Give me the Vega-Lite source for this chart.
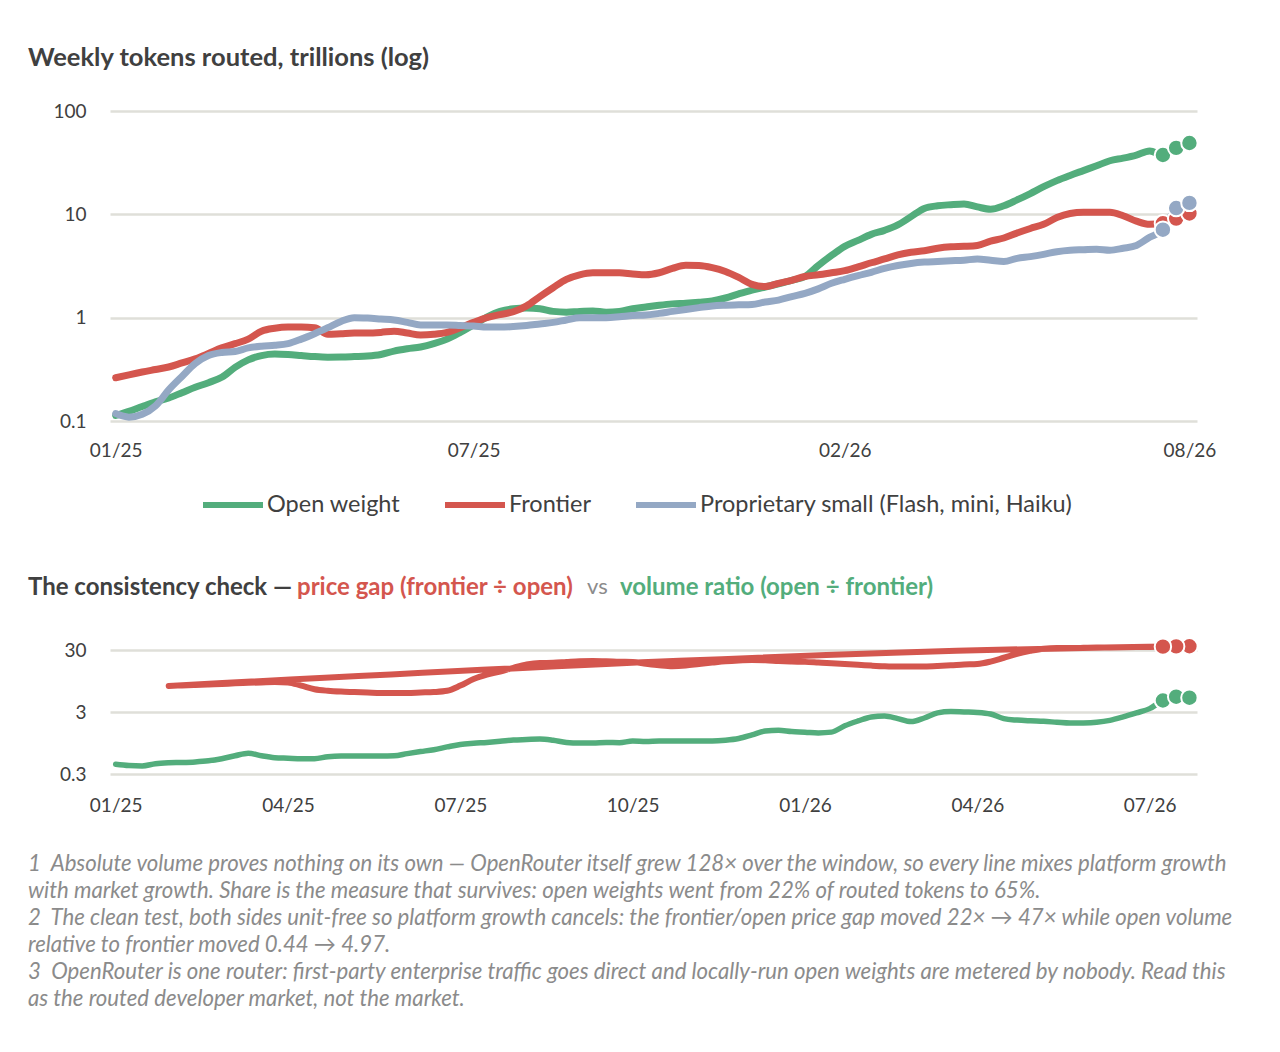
{
  "$schema": "https://vega.github.io/schema/vega-lite/v6.json",
  "background": "white",
  "padding": {"left": 28, "top": 45, "right": 20, "bottom": 20},
  "bounds": "flush",
  "spacing": 114.5,
  "config": {
    "font": "Lato",
    "view": {"stroke": null},
    "axis": {"domain": false, "ticks": false, "tickSize": 0, "labelFont": "Lato", "labelFontSize": 19, "labelColor": "#404040", "labelOverlap": false, "labelFlush": false, "title": null},
    "axisY": {"grid": true, "gridColor": "#DFDFD9", "gridWidth": 2.5, "labelPadding": 24},
    "axisX": {"grid": false, "labelPadding": 20},
    "title": {"font": "Lato", "anchor": "start", "frame": "group"}
  },
  "datasets": {
    "tokens": [
      {"date": "2025-01-13", "series": "open", "value": 0.113},
      {"date": "2025-01-20", "series": "open", "value": 0.124},
      {"date": "2025-01-27", "series": "open", "value": 0.138},
      {"date": "2025-02-03", "series": "open", "value": 0.153},
      {"date": "2025-02-10", "series": "open", "value": 0.167},
      {"date": "2025-02-17", "series": "open", "value": 0.188},
      {"date": "2025-02-24", "series": "open", "value": 0.212},
      {"date": "2025-03-03", "series": "open", "value": 0.235},
      {"date": "2025-03-10", "series": "open", "value": 0.265},
      {"date": "2025-03-17", "series": "open", "value": 0.33},
      {"date": "2025-03-24", "series": "open", "value": 0.39},
      {"date": "2025-03-31", "series": "open", "value": 0.43},
      {"date": "2025-04-07", "series": "open", "value": 0.445},
      {"date": "2025-04-14", "series": "open", "value": 0.44},
      {"date": "2025-04-21", "series": "open", "value": 0.43},
      {"date": "2025-04-28", "series": "open", "value": 0.42},
      {"date": "2025-05-05", "series": "open", "value": 0.415},
      {"date": "2025-05-12", "series": "open", "value": 0.416},
      {"date": "2025-05-19", "series": "open", "value": 0.42},
      {"date": "2025-05-26", "series": "open", "value": 0.425},
      {"date": "2025-06-02", "series": "open", "value": 0.44},
      {"date": "2025-06-09", "series": "open", "value": 0.475},
      {"date": "2025-06-16", "series": "open", "value": 0.5},
      {"date": "2025-06-23", "series": "open", "value": 0.52},
      {"date": "2025-06-30", "series": "open", "value": 0.56},
      {"date": "2025-07-07", "series": "open", "value": 0.62},
      {"date": "2025-07-14", "series": "open", "value": 0.72},
      {"date": "2025-07-21", "series": "open", "value": 0.85},
      {"date": "2025-07-28", "series": "open", "value": 1.01},
      {"date": "2025-08-04", "series": "open", "value": 1.15},
      {"date": "2025-08-11", "series": "open", "value": 1.22},
      {"date": "2025-08-18", "series": "open", "value": 1.24},
      {"date": "2025-08-25", "series": "open", "value": 1.22},
      {"date": "2025-09-01", "series": "open", "value": 1.15},
      {"date": "2025-09-08", "series": "open", "value": 1.13},
      {"date": "2025-09-15", "series": "open", "value": 1.15},
      {"date": "2025-09-22", "series": "open", "value": 1.16},
      {"date": "2025-09-29", "series": "open", "value": 1.13},
      {"date": "2025-10-06", "series": "open", "value": 1.15},
      {"date": "2025-10-13", "series": "open", "value": 1.22},
      {"date": "2025-10-20", "series": "open", "value": 1.27},
      {"date": "2025-10-27", "series": "open", "value": 1.32},
      {"date": "2025-11-03", "series": "open", "value": 1.36},
      {"date": "2025-11-10", "series": "open", "value": 1.38},
      {"date": "2025-11-17", "series": "open", "value": 1.41},
      {"date": "2025-11-24", "series": "open", "value": 1.45},
      {"date": "2025-12-01", "series": "open", "value": 1.55},
      {"date": "2025-12-08", "series": "open", "value": 1.7},
      {"date": "2025-12-15", "series": "open", "value": 1.85},
      {"date": "2025-12-22", "series": "open", "value": 1.98},
      {"date": "2025-12-29", "series": "open", "value": 2.13},
      {"date": "2026-01-05", "series": "open", "value": 2.3},
      {"date": "2026-01-12", "series": "open", "value": 2.5},
      {"date": "2026-01-19", "series": "open", "value": 3.2},
      {"date": "2026-01-26", "series": "open", "value": 4.0},
      {"date": "2026-02-02", "series": "open", "value": 4.9},
      {"date": "2026-02-09", "series": "open", "value": 5.6},
      {"date": "2026-02-16", "series": "open", "value": 6.4},
      {"date": "2026-02-23", "series": "open", "value": 7.0},
      {"date": "2026-03-02", "series": "open", "value": 7.9},
      {"date": "2026-03-09", "series": "open", "value": 9.5},
      {"date": "2026-03-16", "series": "open", "value": 11.4},
      {"date": "2026-03-23", "series": "open", "value": 12.1},
      {"date": "2026-03-30", "series": "open", "value": 12.4},
      {"date": "2026-04-06", "series": "open", "value": 12.6},
      {"date": "2026-04-13", "series": "open", "value": 11.8},
      {"date": "2026-04-20", "series": "open", "value": 11.2},
      {"date": "2026-04-27", "series": "open", "value": 12.1},
      {"date": "2026-05-04", "series": "open", "value": 13.8},
      {"date": "2026-05-11", "series": "open", "value": 15.9},
      {"date": "2026-05-18", "series": "open", "value": 18.5},
      {"date": "2026-05-25", "series": "open", "value": 21.2},
      {"date": "2026-06-01", "series": "open", "value": 23.8},
      {"date": "2026-06-08", "series": "open", "value": 26.5},
      {"date": "2026-06-15", "series": "open", "value": 29.5},
      {"date": "2026-06-22", "series": "open", "value": 33},
      {"date": "2026-06-29", "series": "open", "value": 35},
      {"date": "2026-07-06", "series": "open", "value": 37.5},
      {"date": "2026-07-13", "series": "open", "value": 41},
      {"date": "2026-07-20", "series": "open", "value": 37.5},
      {"date": "2026-07-27", "series": "open", "value": 44},
      {"date": "2026-08-03", "series": "open", "value": 49},
      {"date": "2025-01-13", "series": "frontier", "value": 0.262},
      {"date": "2025-01-20", "series": "frontier", "value": 0.28},
      {"date": "2025-01-27", "series": "frontier", "value": 0.298},
      {"date": "2025-02-03", "series": "frontier", "value": 0.315},
      {"date": "2025-02-10", "series": "frontier", "value": 0.333},
      {"date": "2025-02-17", "series": "frontier", "value": 0.365},
      {"date": "2025-02-24", "series": "frontier", "value": 0.4},
      {"date": "2025-03-03", "series": "frontier", "value": 0.45},
      {"date": "2025-03-10", "series": "frontier", "value": 0.51},
      {"date": "2025-03-17", "series": "frontier", "value": 0.56},
      {"date": "2025-03-24", "series": "frontier", "value": 0.62},
      {"date": "2025-03-31", "series": "frontier", "value": 0.74},
      {"date": "2025-04-07", "series": "frontier", "value": 0.79},
      {"date": "2025-04-14", "series": "frontier", "value": 0.81},
      {"date": "2025-04-21", "series": "frontier", "value": 0.81},
      {"date": "2025-04-28", "series": "frontier", "value": 0.8},
      {"date": "2025-05-05", "series": "frontier", "value": 0.69},
      {"date": "2025-05-12", "series": "frontier", "value": 0.7},
      {"date": "2025-05-19", "series": "frontier", "value": 0.71},
      {"date": "2025-05-26", "series": "frontier", "value": 0.71},
      {"date": "2025-06-02", "series": "frontier", "value": 0.72},
      {"date": "2025-06-09", "series": "frontier", "value": 0.74},
      {"date": "2025-06-16", "series": "frontier", "value": 0.71},
      {"date": "2025-06-23", "series": "frontier", "value": 0.68},
      {"date": "2025-06-30", "series": "frontier", "value": 0.69},
      {"date": "2025-07-07", "series": "frontier", "value": 0.72},
      {"date": "2025-07-14", "series": "frontier", "value": 0.8},
      {"date": "2025-07-21", "series": "frontier", "value": 0.9},
      {"date": "2025-07-28", "series": "frontier", "value": 1.0},
      {"date": "2025-08-04", "series": "frontier", "value": 1.07},
      {"date": "2025-08-11", "series": "frontier", "value": 1.14},
      {"date": "2025-08-18", "series": "frontier", "value": 1.3},
      {"date": "2025-08-25", "series": "frontier", "value": 1.6},
      {"date": "2025-09-01", "series": "frontier", "value": 1.95},
      {"date": "2025-09-08", "series": "frontier", "value": 2.35},
      {"date": "2025-09-15", "series": "frontier", "value": 2.6},
      {"date": "2025-09-22", "series": "frontier", "value": 2.72},
      {"date": "2025-09-29", "series": "frontier", "value": 2.72},
      {"date": "2025-10-06", "series": "frontier", "value": 2.72},
      {"date": "2025-10-13", "series": "frontier", "value": 2.65},
      {"date": "2025-10-20", "series": "frontier", "value": 2.6},
      {"date": "2025-10-27", "series": "frontier", "value": 2.72},
      {"date": "2025-11-03", "series": "frontier", "value": 3.0},
      {"date": "2025-11-10", "series": "frontier", "value": 3.22},
      {"date": "2025-11-17", "series": "frontier", "value": 3.2},
      {"date": "2025-11-24", "series": "frontier", "value": 3.05},
      {"date": "2025-12-01", "series": "frontier", "value": 2.8},
      {"date": "2025-12-08", "series": "frontier", "value": 2.45},
      {"date": "2025-12-15", "series": "frontier", "value": 2.1},
      {"date": "2025-12-22", "series": "frontier", "value": 2.0},
      {"date": "2025-12-29", "series": "frontier", "value": 2.15},
      {"date": "2026-01-05", "series": "frontier", "value": 2.3},
      {"date": "2026-01-12", "series": "frontier", "value": 2.5},
      {"date": "2026-01-19", "series": "frontier", "value": 2.6},
      {"date": "2026-01-26", "series": "frontier", "value": 2.72},
      {"date": "2026-02-02", "series": "frontier", "value": 2.85},
      {"date": "2026-02-09", "series": "frontier", "value": 3.1},
      {"date": "2026-02-16", "series": "frontier", "value": 3.4},
      {"date": "2026-02-23", "series": "frontier", "value": 3.7},
      {"date": "2026-03-02", "series": "frontier", "value": 4.05},
      {"date": "2026-03-09", "series": "frontier", "value": 4.3},
      {"date": "2026-03-16", "series": "frontier", "value": 4.45},
      {"date": "2026-03-23", "series": "frontier", "value": 4.7},
      {"date": "2026-03-30", "series": "frontier", "value": 4.85},
      {"date": "2026-04-06", "series": "frontier", "value": 4.9},
      {"date": "2026-04-13", "series": "frontier", "value": 5.0},
      {"date": "2026-04-20", "series": "frontier", "value": 5.5},
      {"date": "2026-04-27", "series": "frontier", "value": 5.9},
      {"date": "2026-05-04", "series": "frontier", "value": 6.6},
      {"date": "2026-05-11", "series": "frontier", "value": 7.3},
      {"date": "2026-05-18", "series": "frontier", "value": 8.0},
      {"date": "2026-05-25", "series": "frontier", "value": 9.3},
      {"date": "2026-06-01", "series": "frontier", "value": 10.2},
      {"date": "2026-06-08", "series": "frontier", "value": 10.5},
      {"date": "2026-06-15", "series": "frontier", "value": 10.5},
      {"date": "2026-06-22", "series": "frontier", "value": 10.5},
      {"date": "2026-06-29", "series": "frontier", "value": 9.7},
      {"date": "2026-07-06", "series": "frontier", "value": 8.6},
      {"date": "2026-07-13", "series": "frontier", "value": 8.0},
      {"date": "2026-07-20", "series": "frontier", "value": 8.2},
      {"date": "2026-07-27", "series": "frontier", "value": 9.1},
      {"date": "2026-08-03", "series": "frontier", "value": 10.2},
      {"date": "2025-01-13", "series": "small", "value": 0.118},
      {"date": "2025-01-20", "series": "small", "value": 0.109},
      {"date": "2025-01-27", "series": "small", "value": 0.116},
      {"date": "2025-02-03", "series": "small", "value": 0.14},
      {"date": "2025-02-10", "series": "small", "value": 0.2},
      {"date": "2025-02-17", "series": "small", "value": 0.27},
      {"date": "2025-02-24", "series": "small", "value": 0.36},
      {"date": "2025-03-03", "series": "small", "value": 0.43},
      {"date": "2025-03-10", "series": "small", "value": 0.46},
      {"date": "2025-03-17", "series": "small", "value": 0.47},
      {"date": "2025-03-24", "series": "small", "value": 0.51},
      {"date": "2025-03-31", "series": "small", "value": 0.53},
      {"date": "2025-04-07", "series": "small", "value": 0.54},
      {"date": "2025-04-14", "series": "small", "value": 0.56},
      {"date": "2025-04-21", "series": "small", "value": 0.62},
      {"date": "2025-04-28", "series": "small", "value": 0.7},
      {"date": "2025-05-05", "series": "small", "value": 0.8},
      {"date": "2025-05-12", "series": "small", "value": 0.92},
      {"date": "2025-05-19", "series": "small", "value": 1.0},
      {"date": "2025-05-26", "series": "small", "value": 0.99},
      {"date": "2025-06-02", "series": "small", "value": 0.97},
      {"date": "2025-06-09", "series": "small", "value": 0.95},
      {"date": "2025-06-16", "series": "small", "value": 0.9},
      {"date": "2025-06-23", "series": "small", "value": 0.85},
      {"date": "2025-06-30", "series": "small", "value": 0.85},
      {"date": "2025-07-07", "series": "small", "value": 0.85},
      {"date": "2025-07-14", "series": "small", "value": 0.84},
      {"date": "2025-07-21", "series": "small", "value": 0.83},
      {"date": "2025-07-28", "series": "small", "value": 0.81},
      {"date": "2025-08-04", "series": "small", "value": 0.81},
      {"date": "2025-08-11", "series": "small", "value": 0.82},
      {"date": "2025-08-18", "series": "small", "value": 0.84},
      {"date": "2025-08-25", "series": "small", "value": 0.87},
      {"date": "2025-09-01", "series": "small", "value": 0.9},
      {"date": "2025-09-08", "series": "small", "value": 0.95},
      {"date": "2025-09-15", "series": "small", "value": 1.0},
      {"date": "2025-09-22", "series": "small", "value": 1.0},
      {"date": "2025-09-29", "series": "small", "value": 1.0},
      {"date": "2025-10-06", "series": "small", "value": 1.02},
      {"date": "2025-10-13", "series": "small", "value": 1.05},
      {"date": "2025-10-20", "series": "small", "value": 1.06},
      {"date": "2025-10-27", "series": "small", "value": 1.1},
      {"date": "2025-11-03", "series": "small", "value": 1.15},
      {"date": "2025-11-10", "series": "small", "value": 1.2},
      {"date": "2025-11-17", "series": "small", "value": 1.25},
      {"date": "2025-11-24", "series": "small", "value": 1.3},
      {"date": "2025-12-01", "series": "small", "value": 1.32},
      {"date": "2025-12-08", "series": "small", "value": 1.33},
      {"date": "2025-12-15", "series": "small", "value": 1.34},
      {"date": "2025-12-22", "series": "small", "value": 1.42},
      {"date": "2025-12-29", "series": "small", "value": 1.48},
      {"date": "2026-01-05", "series": "small", "value": 1.6},
      {"date": "2026-01-12", "series": "small", "value": 1.72},
      {"date": "2026-01-19", "series": "small", "value": 1.9},
      {"date": "2026-01-26", "series": "small", "value": 2.15},
      {"date": "2026-02-02", "series": "small", "value": 2.35},
      {"date": "2026-02-09", "series": "small", "value": 2.55},
      {"date": "2026-02-16", "series": "small", "value": 2.75},
      {"date": "2026-02-23", "series": "small", "value": 3.0},
      {"date": "2026-03-02", "series": "small", "value": 3.2},
      {"date": "2026-03-09", "series": "small", "value": 3.35},
      {"date": "2026-03-16", "series": "small", "value": 3.45},
      {"date": "2026-03-23", "series": "small", "value": 3.5},
      {"date": "2026-03-30", "series": "small", "value": 3.55},
      {"date": "2026-04-06", "series": "small", "value": 3.6},
      {"date": "2026-04-13", "series": "small", "value": 3.7},
      {"date": "2026-04-20", "series": "small", "value": 3.6},
      {"date": "2026-04-27", "series": "small", "value": 3.5},
      {"date": "2026-05-04", "series": "small", "value": 3.75},
      {"date": "2026-05-11", "series": "small", "value": 3.9},
      {"date": "2026-05-18", "series": "small", "value": 4.1},
      {"date": "2026-05-25", "series": "small", "value": 4.35},
      {"date": "2026-06-01", "series": "small", "value": 4.5},
      {"date": "2026-06-08", "series": "small", "value": 4.55},
      {"date": "2026-06-15", "series": "small", "value": 4.6},
      {"date": "2026-06-22", "series": "small", "value": 4.5},
      {"date": "2026-06-29", "series": "small", "value": 4.7},
      {"date": "2026-07-06", "series": "small", "value": 5.0},
      {"date": "2026-07-13", "series": "small", "value": 6.0},
      {"date": "2026-07-20", "series": "small", "value": 7.1},
      {"date": "2026-07-27", "series": "small", "value": 11.5},
      {"date": "2026-08-03", "series": "small", "value": 12.9}
    ],
    "ratio": [
      {"date": "2025-01-13", "value": 0.43},
      {"date": "2025-01-20", "value": 0.41},
      {"date": "2025-01-27", "value": 0.405},
      {"date": "2025-02-03", "value": 0.44},
      {"date": "2025-02-10", "value": 0.455},
      {"date": "2025-02-17", "value": 0.46},
      {"date": "2025-02-24", "value": 0.47},
      {"date": "2025-03-03", "value": 0.49},
      {"date": "2025-03-10", "value": 0.53},
      {"date": "2025-03-17", "value": 0.59},
      {"date": "2025-03-24", "value": 0.65},
      {"date": "2025-03-31", "value": 0.59},
      {"date": "2025-04-07", "value": 0.55},
      {"date": "2025-04-14", "value": 0.54},
      {"date": "2025-04-21", "value": 0.53},
      {"date": "2025-04-28", "value": 0.53},
      {"date": "2025-05-05", "value": 0.57},
      {"date": "2025-05-12", "value": 0.585},
      {"date": "2025-05-19", "value": 0.585},
      {"date": "2025-05-26", "value": 0.585},
      {"date": "2025-06-02", "value": 0.585},
      {"date": "2025-06-09", "value": 0.59},
      {"date": "2025-06-16", "value": 0.64},
      {"date": "2025-06-23", "value": 0.69},
      {"date": "2025-06-30", "value": 0.74},
      {"date": "2025-07-07", "value": 0.82},
      {"date": "2025-07-14", "value": 0.9},
      {"date": "2025-07-21", "value": 0.94},
      {"date": "2025-07-28", "value": 0.97},
      {"date": "2025-08-04", "value": 1.01},
      {"date": "2025-08-11", "value": 1.06},
      {"date": "2025-08-18", "value": 1.08},
      {"date": "2025-08-25", "value": 1.1},
      {"date": "2025-09-01", "value": 1.05},
      {"date": "2025-09-08", "value": 0.97},
      {"date": "2025-09-15", "value": 0.95},
      {"date": "2025-09-22", "value": 0.95},
      {"date": "2025-09-29", "value": 0.97},
      {"date": "2025-10-06", "value": 0.96},
      {"date": "2025-10-13", "value": 1.02},
      {"date": "2025-10-20", "value": 1.0},
      {"date": "2025-10-27", "value": 1.02},
      {"date": "2025-11-03", "value": 1.02},
      {"date": "2025-11-10", "value": 1.02},
      {"date": "2025-11-17", "value": 1.02},
      {"date": "2025-11-24", "value": 1.02},
      {"date": "2025-12-01", "value": 1.05},
      {"date": "2025-12-08", "value": 1.12},
      {"date": "2025-12-15", "value": 1.28},
      {"date": "2025-12-22", "value": 1.48},
      {"date": "2025-12-29", "value": 1.52},
      {"date": "2026-01-05", "value": 1.45},
      {"date": "2026-01-12", "value": 1.42},
      {"date": "2026-01-19", "value": 1.38},
      {"date": "2026-01-26", "value": 1.42},
      {"date": "2026-02-02", "value": 1.8},
      {"date": "2026-02-09", "value": 2.15},
      {"date": "2026-02-16", "value": 2.5},
      {"date": "2026-02-23", "value": 2.59},
      {"date": "2026-03-02", "value": 2.35},
      {"date": "2026-03-09", "value": 2.1},
      {"date": "2026-03-16", "value": 2.4},
      {"date": "2026-03-23", "value": 2.9},
      {"date": "2026-03-30", "value": 3.05},
      {"date": "2026-04-06", "value": 3.0},
      {"date": "2026-04-13", "value": 2.95},
      {"date": "2026-04-20", "value": 2.78},
      {"date": "2026-04-27", "value": 2.35},
      {"date": "2026-05-04", "value": 2.22},
      {"date": "2026-05-11", "value": 2.16},
      {"date": "2026-05-18", "value": 2.12},
      {"date": "2026-05-25", "value": 2.05},
      {"date": "2026-06-01", "value": 1.99},
      {"date": "2026-06-08", "value": 2.0},
      {"date": "2026-06-15", "value": 2.05},
      {"date": "2026-06-22", "value": 2.2},
      {"date": "2026-06-29", "value": 2.5},
      {"date": "2026-07-06", "value": 2.9},
      {"date": "2026-07-13", "value": 3.4},
      {"date": "2026-07-20", "value": 4.6},
      {"date": "2026-07-27", "value": 5.3},
      {"date": "2026-08-03", "value": 5.1}
    ],
    "gap": [
      {"date": "2025-02-10", "value": 7.9},
      {"date": "2026-08-03", "value": 34.5},
      {"date": "2026-07-27", "value": 34.3},
      {"date": "2026-07-20", "value": 34.0},
      {"date": "2026-07-13", "value": 33.6},
      {"date": "2026-07-06", "value": 33.4},
      {"date": "2026-06-29", "value": 33.2},
      {"date": "2026-06-22", "value": 33.0},
      {"date": "2026-06-15", "value": 32.8},
      {"date": "2026-06-08", "value": 32.5},
      {"date": "2026-06-01", "value": 32.3},
      {"date": "2026-05-25", "value": 32.3},
      {"date": "2026-05-18", "value": 31.5},
      {"date": "2026-05-11", "value": 29.0},
      {"date": "2026-05-04", "value": 26.0},
      {"date": "2026-04-27", "value": 22.5},
      {"date": "2026-04-20", "value": 19.5},
      {"date": "2026-04-13", "value": 17.8},
      {"date": "2026-04-06", "value": 17.5},
      {"date": "2026-03-30", "value": 17.0},
      {"date": "2026-03-23", "value": 16.6},
      {"date": "2026-03-16", "value": 16.3},
      {"date": "2026-03-09", "value": 16.2},
      {"date": "2026-03-02", "value": 16.2},
      {"date": "2026-02-23", "value": 16.4},
      {"date": "2026-02-16", "value": 16.8},
      {"date": "2026-02-09", "value": 17.3},
      {"date": "2026-02-02", "value": 17.8},
      {"date": "2026-01-26", "value": 18.3},
      {"date": "2026-01-19", "value": 18.8},
      {"date": "2026-01-12", "value": 19.3},
      {"date": "2026-01-05", "value": 19.6},
      {"date": "2025-12-29", "value": 20.0},
      {"date": "2025-12-22", "value": 20.5},
      {"date": "2025-12-15", "value": 20.7},
      {"date": "2025-12-08", "value": 20.4},
      {"date": "2025-12-01", "value": 19.8},
      {"date": "2025-11-24", "value": 18.8},
      {"date": "2025-11-17", "value": 17.8},
      {"date": "2025-11-10", "value": 16.8},
      {"date": "2025-11-03", "value": 16.4},
      {"date": "2025-10-27", "value": 17.0},
      {"date": "2025-10-20", "value": 18.0},
      {"date": "2025-10-13", "value": 19.2},
      {"date": "2025-10-06", "value": 19.4},
      {"date": "2025-09-29", "value": 19.8},
      {"date": "2025-09-22", "value": 20.0},
      {"date": "2025-09-15", "value": 19.8},
      {"date": "2025-09-08", "value": 19.2},
      {"date": "2025-09-01", "value": 18.6},
      {"date": "2025-08-25", "value": 18.5},
      {"date": "2025-08-18", "value": 17.5},
      {"date": "2025-08-11", "value": 15.5},
      {"date": "2025-08-04", "value": 13.5},
      {"date": "2025-07-28", "value": 12.0},
      {"date": "2025-07-21", "value": 10.2},
      {"date": "2025-07-14", "value": 8.0},
      {"date": "2025-07-07", "value": 6.6},
      {"date": "2025-06-30", "value": 6.3},
      {"date": "2025-06-23", "value": 6.2},
      {"date": "2025-06-16", "value": 6.1},
      {"date": "2025-06-09", "value": 6.1},
      {"date": "2025-06-02", "value": 6.1},
      {"date": "2025-05-26", "value": 6.2},
      {"date": "2025-05-19", "value": 6.3},
      {"date": "2025-05-12", "value": 6.4},
      {"date": "2025-05-05", "value": 6.6},
      {"date": "2025-04-28", "value": 7.0},
      {"date": "2025-04-21", "value": 8.0},
      {"date": "2025-04-14", "value": 9.0},
      {"date": "2025-04-07", "value": 9.15},
      {"date": "2025-03-31", "value": 9.0},
      {"date": "2025-03-24", "value": 8.85},
      {"date": "2025-03-17", "value": 8.7},
      {"date": "2025-03-10", "value": 8.5},
      {"date": "2025-03-03", "value": 8.35},
      {"date": "2025-02-24", "value": 8.2},
      {"date": "2025-02-17", "value": 8.05}
    ]
  },
  "vconcat": [
    {
      "width": 1087,
      "height": 310,
      "title": {"text": "Weekly tokens routed, trillions (log)", "dx": -82, "offset": 31, "fontSize": 25.5, "fontWeight": "bold", "color": "#404040"},
      "data": {"name": "tokens"},
      "encoding": {
        "x": {
          "field": "date", "type": "temporal",
          "scale": {"domain": [{"year": 2025, "month": 1, "date": 10}, {"year": 2026, "month": 8, "date": 7}]},
          "axis": {"format": "%m/%y", "values": [
            {"year": 2025, "month": 1, "date": 13},
            {"year": 2025, "month": 7, "date": 21},
            {"year": 2026, "month": 2, "date": 2},
            {"year": 2026, "month": 8, "date": 3}
          ]}
        },
        "y": {
          "field": "value", "type": "quantitative",
          "scale": {"type": "log", "domain": [0.1, 100], "nice": false},
          "axis": {"values": [0.1, 1, 10, 100], "format": "~g"}
        }
      },
      "layer": [
        {
          "mark": {"type": "line", "strokeWidth": 7, "strokeCap": "round", "strokeJoin": "round", "interpolate": "monotone"},
          "encoding": {
            "color": {
              "field": "series", "type": "nominal",
              "scale": {"domain": ["open", "frontier", "small"], "range": ["#53AD7C", "#D4564E", "#94A8C4"]},
              "legend": {
                "orient": "none", "legendX": 90, "legendY": 361, "direction": "horizontal", "title": null,
                "symbolType": "stroke", "symbolSize": 3600, "symbolStrokeWidth": 6,
                "labelFont": "Lato", "labelFontSize": 23.5, "labelColor": "#404040", "labelOffset": 1, "labelLimit": 800, "columnPadding": 32,
                "labelExpr": "datum.label == 'open' ? 'Open weight' : datum.label == 'frontier' ? 'Frontier' : 'Proprietary small (Flash, mini, Haiku)'"
              }
            }
          }
        },
        {
          "transform": [{"filter": {"field": "date", "timeUnit": "yearmonthdate", "gte": {"year": 2026, "month": 7, "date": 16}}}],
          "mark": {"type": "circle", "size": 270, "opacity": 1, "stroke": "white", "strokeWidth": 2},
          "encoding": {
            "fill": {"field": "series", "type": "nominal", "scale": {"domain": ["open", "frontier", "small"], "range": ["#53AD7C", "#D4564E", "#94A8C4"]}, "legend": null}
          }
        }
      ]
    },
    {
      "hconcat": [
        {"width": 187, "height": 29, "data": {"values": []}, "mark": "text",
         "title": {"text": "The consistency check —", "orient": "bottom", "dx": -82, "offset": 11.5, "fontSize": 24, "fontWeight": "bold", "color": "#404040"}},
        {"width": 290, "height": 29, "data": {"values": []}, "mark": "text",
         "title": {"text": "price gap (frontier ÷ open)", "orient": "bottom", "offset": 11.5, "fontSize": 24, "fontWeight": "bold", "color": "#D4564E"}},
        {"width": 33, "height": 29, "data": {"values": []}, "mark": "text",
         "title": {"text": "vs", "orient": "bottom", "offset": 12.5, "fontSize": 22, "fontWeight": "normal", "color": "#8B8B8B"}},
        {"width": 340, "height": 29, "data": {"values": []}, "mark": "text",
         "title": {"text": "volume ratio (open ÷ frontier)", "orient": "bottom", "offset": 11.5, "fontSize": 24, "fontWeight": "bold", "color": "#53AD7C"}}
      ],
      "spacing": 0,
      "bounds": "flush"
    },
    {
      "width": 1087,
      "height": 124,
      "title": {
        "text": [
          "1\u00a0 Absolute volume proves nothing on its own — OpenRouter itself grew 128× over the window, so every line mixes platform growth",
          "with market growth. Share is the measure that survives: open weights went from 22% of routed tokens to 65%.",
          "2\u00a0 The clean test, both sides unit-free so platform growth cancels: the frontier/open price gap moved 22× → 47× while open volume",
          "relative to frontier moved 0.44 → 4.97.",
          "3\u00a0 OpenRouter is one router: first-party enterprise traffic goes direct and locally-run open weights are metered by nobody. Read this",
          "as the routed developer market, not the market."
        ],
        "orient": "bottom", "dx": -82, "offset": 38, "fontSize": 22.2, "fontStyle": "italic", "fontWeight": "normal", "color": "#8B8B8B", "lineHeight": 27
      },
      "encoding": {
        "x": {
          "field": "date", "type": "temporal",
          "scale": {"domain": [{"year": 2025, "month": 1, "date": 10}, {"year": 2026, "month": 8, "date": 7}]},
          "axis": {"format": "%m/%y", "labelPadding": 22, "values": [
            {"year": 2025, "month": 1, "date": 13},
            {"year": 2025, "month": 4, "date": 14},
            {"year": 2025, "month": 7, "date": 14},
            {"year": 2025, "month": 10, "date": 13},
            {"year": 2026, "month": 1, "date": 12},
            {"year": 2026, "month": 4, "date": 13},
            {"year": 2026, "month": 7, "date": 13}
          ]}
        },
        "y": {
          "field": "value", "type": "quantitative",
          "scale": {"type": "log", "domain": [0.3, 30], "nice": false},
          "axis": {"values": [0.3, 3, 30], "format": "~g"}
        }
      },
      "layer": [
        {
          "data": {"name": "gap"},
          "mark": {"type": "line", "color": "#D4564E", "strokeWidth": 6, "strokeCap": "round", "strokeJoin": "round", "interpolate": "monotone"},
          "encoding": {"order": {"value": null}}
        },
        {
          "data": {"name": "gap"},
          "transform": [{"filter": {"field": "date", "timeUnit": "yearmonthdate", "gte": {"year": 2026, "month": 7, "date": 16}}}],
          "mark": {"type": "circle", "size": 270, "opacity": 1, "fill": "#D4564E", "stroke": "white", "strokeWidth": 2}
        },
        {
          "data": {"name": "ratio"},
          "mark": {"type": "line", "color": "#53AD7C", "strokeWidth": 5.5, "strokeCap": "round", "strokeJoin": "round", "interpolate": "monotone"}
        },
        {
          "data": {"name": "ratio"},
          "transform": [{"filter": {"field": "date", "timeUnit": "yearmonthdate", "gte": {"year": 2026, "month": 7, "date": 16}}}],
          "mark": {"type": "circle", "size": 270, "opacity": 1, "fill": "#53AD7C", "stroke": "white", "strokeWidth": 2}
        }
      ]
    }
  ]
}
